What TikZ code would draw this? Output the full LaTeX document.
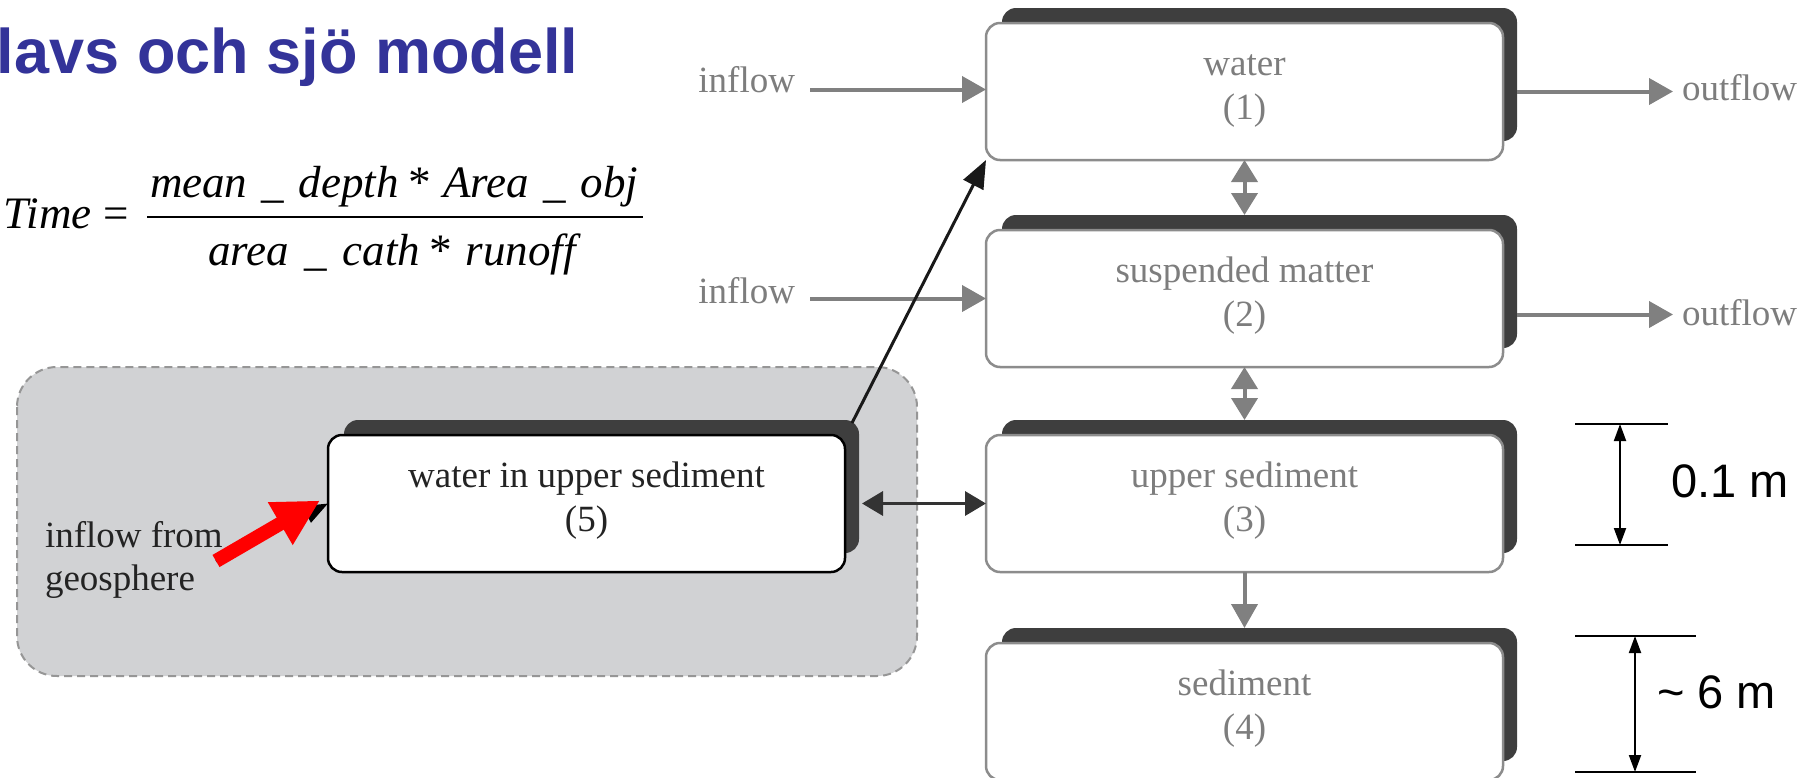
\documentclass[tikz,border=0pt]{standalone}
\usepackage{fontspec}
\setmainfont{Liberation Serif}
\setsansfont{Liberation Sans}
\usetikzlibrary{arrows.meta,calc}
\definecolor{titleblue}{RGB}{51,51,153}
\definecolor{shad}{RGB}{62,62,62}
\definecolor{boxline}{RGB}{140,140,140}
\definecolor{gtext}{RGB}{125,125,125}
\definecolor{garr}{RGB}{128,128,128}
\definecolor{regionfill}{RGB}{209,210,212}
\definecolor{regionline}{RGB}{150,150,150}
\definecolor{darktext}{RGB}{35,35,35}
\tikzset{
  every node/.style={inner sep=0pt, outer sep=0pt},
  lightbox/.style={draw=boxline, line width=2.5pt, fill=white, rounded corners=14pt,
    minimum width=517pt, minimum height=137pt},
  lightboxtext/.style={font=\fontsize{37}{44}\selectfont, text=gtext},
  darkbox/.style={lightbox, draw=black},
  darkboxtext/.style={font=\fontsize{37}{44}\selectfont, text=darktext},
  shadowfill/.style={fill=shad, rounded corners=14pt},
  flowlabel/.style={font=\fontsize{37}{44}\selectfont, text=gtext},
  garrow/.style={draw=garr, line width=4pt, -{Triangle[length=24pt,width=26pt]}},
  gdarrow/.style={draw=garr, line width=4pt, {Triangle[length=22pt,width=26pt]}-{Triangle[length=22pt,width=26pt]}},
  bdarrow/.style={draw=black!80, line width=3.5pt, {Triangle[length=21pt,width=24pt]}-{Triangle[length=21pt,width=24pt]}},
  barrow/.style={draw=black!90, line width=3pt, -{Triangle[length=28pt,width=22pt]}},
  redarrow/.style={draw=red, line width=14pt, -{Triangle[length=46pt,width=46pt]}},
  dimline/.style={draw=black, line width=2pt},
  dimarrow/.style={draw=black, line width=2pt, {Triangle[length=17pt,width=12pt]}-{Triangle[length=17pt,width=12pt]}},
  dimtext/.style={font=\sffamily\fontsize{47}{52}\selectfont, text=black},
}
\newcommand\lakebox[6]{%
  \fill[shadowfill] (#2-242.5,-#3+15) rectangle (#2+272.5,-#3-118);
  \node[#4, anchor=north] (#1) at (#2,-#3) {};
  \node[#4text, anchor=base] (#1a) at (#2,-#3-52) {#5};
  \node[#4text, anchor=base] (#1b) at (#2,-#3-96) {#6};
}
\begin{document}
\begin{tikzpicture}[x=1pt,y=1pt]
\useasboundingbox (0,0) rectangle (1813,-777);
\fill[white] (0,0) rectangle (1813,-777);

% title
\node[anchor=base west, font=\sffamily\bfseries\fontsize{63}{70}\selectfont, text=titleblue] (title) at (-3,-73) {lavs och sjö modell};

% formula
\node[anchor=base west, font=\itshape\fontsize{45}{50}\selectfont] (time) at (4,-228) {Time};
\node[anchor=base, font=\fontsize{45}{50}\selectfont] (eq) at (116,-228) {=};
\draw[line width=2.2pt] (147,-217) -- (643,-217);
\node[anchor=base west, font=\itshape\fontsize{45}{50}\selectfont] (num) at (150,-197)
  {\makebox[488pt][s]{mean\hspace{0pt plus 1fil}\_\hspace{0pt plus 1fil}depth\hspace{0pt plus 0.5fil}*\hspace{0pt plus 1fil}Area\hspace{0pt plus 1fil}\_\hspace{0pt plus 1fil}obj}};
\node[anchor=base west, font=\itshape\fontsize{45}{50}\selectfont] (den) at (208,-265)
  {\makebox[368pt][s]{area\hspace{0pt plus 1fil}\_\hspace{0pt plus 1fil}cath\hspace{0pt plus 0.5fil}*\hspace{0pt plus 1fil}runoff}};

% grey region
\draw[fill=regionfill, draw=regionline, line width=2pt, dash pattern=on 8pt off 5pt, rounded corners=40pt]
  (17,-367) rectangle (917,-676);

% boxes
\lakebox{b1}{1244.5}{23}{lightbox}{water}{(1)}
\lakebox{b2}{1244.5}{230}{lightbox}{suspended matter}{(2)}
\lakebox{b3}{1244.5}{435}{lightbox}{upper sediment}{(3)}
\lakebox{b4}{1244.5}{643}{lightbox}{sediment}{(4)}
\lakebox{b5}{586.5}{435}{darkbox}{water in upper sediment}{(5)}

% inflow / outflow
\node[flowlabel, anchor=base east] (in1) at (795,-92) {inflow};
\node[flowlabel, anchor=base east] (in2) at (795,-303) {inflow};
\draw[garrow] ($(in1.east |- b1.west)+(15,2)$) -- ($(b1.west)+(0,2)$);
\draw[garrow] ($(in2.east |- b2.west)+(15,0)$) -- (b2.west);
\node[flowlabel, anchor=base west] (out1) at (1682,-100) {outflow};
\node[flowlabel, anchor=base west] (out2) at (1682,-325) {outflow};
\draw[garrow] ($(b1.east)+(14,0)$) -- ($(out1.west |- b1.east)+(-9,0)$);
\draw[garrow] ($(b2.east)+(14,-16)$) -- ($(out2.west |- b2.east)+(-9,-16)$);

% vertical exchanges
\draw[gdarrow] (b1.south) -- ($(b2.north)+(0,15)$);
\draw[gdarrow] (b2.south) -- ($(b3.north)+(0,15)$);
\draw[garrow] (b3.south) -- ($(b4.north)+(0,15)$);

% connections of box 5
\draw[bdarrow] ($(b5.east)+(17,0)$) -- (b3.west);
\draw[barrow] ($(b5.north east)+(7,12)$) -- (b1.south west);

% inflow from geosphere
\node[anchor=base west, font=\fontsize{37}{44}\selectfont, text=darktext] (geo1) at (45,-547) {inflow from};
\node[anchor=base west, font=\fontsize{37}{44}\selectfont, text=darktext] (geo2) at (45,-590) {geosphere};
\coordinate (geo) at (216,-561);
\draw[draw=black, line width=3pt, -{Triangle[length=24pt,width=18pt]}] (geo) -- (b5.west);
\draw[redarrow] (geo) -- ($(b5.west)+(-8,3)$);

% dimensions
\coordinate (d1a) at (1575,-424);
\coordinate (d1b) at (1575,-545);
\draw[dimline] (d1a) -- ++(93,0);
\draw[dimline] (d1b) -- ++(93,0);
\draw[dimarrow] ($(d1a)+(45,0)$) -- ($(d1b)+(45,0)$);
\node[dimtext, anchor=base west] (d1t) at (1671,-497) {0.1 m};
\coordinate (d2a) at (1575,-636);
\coordinate (d2b) at (1575,-772);
\draw[dimline] (d2a) -- ++(121,0);
\draw[dimline] (d2b) -- ++(121,0);
\draw[dimarrow] ($(d2a)+(60,0)$) -- ($(d2b)+(60,0)$);
\node[dimtext, anchor=base west] (d2t) at (1657,-708) {\textasciitilde\ 6 m};
\end{tikzpicture}
\end{document}
